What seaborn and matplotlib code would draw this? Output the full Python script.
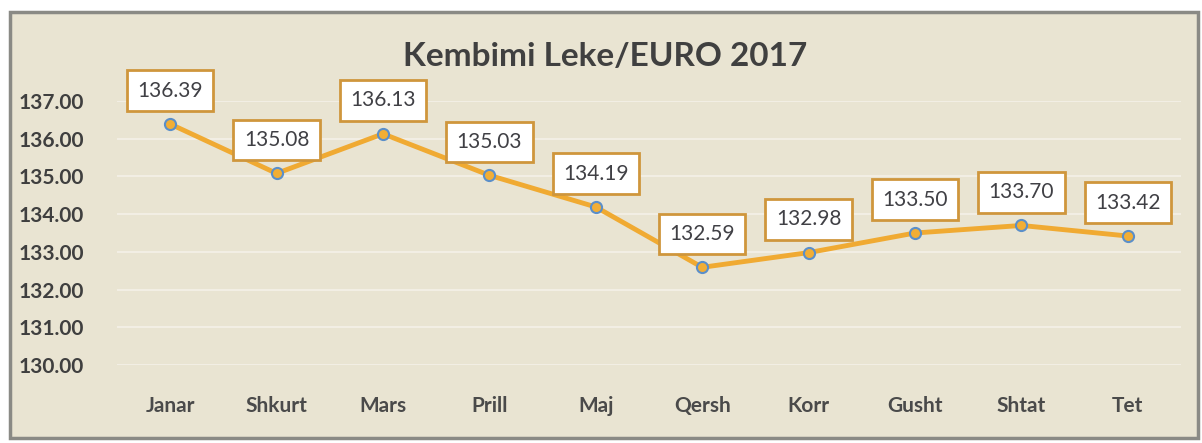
import pandas as pd
import matplotlib.pyplot as plt
import matplotlib.patches as mpatches
import seaborn as sns

# Monthly Lek/Euro rates for 2017
months = ["Janar", "Shkurt", "Mars", "Prill", "Maj", "Qersh", "Korr", "Gusht", "Shtat", "Tet"]
rates = [136.39, 135.08, 136.13, 135.03, 134.19, 132.59, 132.98, 133.50, 133.70, 133.42]
y_ticks = [130, 131, 132, 133, 134, 135, 136, 137]

df = pd.DataFrame({"muaji": months, "kursi": rates})

sns.set_theme(style="white")
plt.rcParams["font.family"] = ["Lato", "DejaVu Sans"]

W, H = 1202, 443
fig = plt.figure(figsize=(W / 100, H / 100), dpi=100)
fig.patch.set_facecolor("white")

# beige panel with grey frame (behind the axes)
panel = mpatches.Rectangle((10 / W, 5 / H), 1188 / W, 426 / H, transform=fig.transFigure,
                           facecolor="#E9E4D2", edgecolor="#8A8A85", linewidth=2.5, zorder=-1)
fig.patches.append(panel)

ax = fig.add_axes([117 / W, 1 - 365 / H, 1064 / W, 264 / H])
ax.set_facecolor("none")

sns.lineplot(data=df, x="muaji", y="kursi", sort=False, ax=ax, color="#F0AA32",
             linewidth=3.5, marker="o", markersize=8, markerfacecolor="#F2AE35",
             markeredgecolor="#5B8FC9", markeredgewidth=1.5, clip_on=False, zorder=3)

for i, v in enumerate(rates):
    ax.annotate(f"{v:.2f}", (i, v), xytext=(0, 24), textcoords="offset points",
                ha="center", va="center", fontsize=15, color="#404045",
                bbox=dict(boxstyle="square,pad=0.5", facecolor="white",
                          edgecolor="#CF963C", linewidth=2), zorder=5)

ax.set_ylim(130, 137)
ax.set_xlim(-0.5, len(months) - 0.5)
ax.set_yticks(y_ticks)
ax.set_yticklabels([f"{t:.2f}" for t in y_ticks])
ax.yaxis.grid(True, color="#F4F1E8", linewidth=1.2)
ax.set_axisbelow(True)
for s in ax.spines.values():
    s.set_visible(False)
ax.tick_params(axis="y", length=0, pad=24, labelsize=15, labelcolor="#3F3F3F")
ax.tick_params(axis="x", length=0, pad=22, labelsize=15, labelcolor="#4A4A4A")
for lbl in ax.get_xticklabels() + ax.get_yticklabels():
    lbl.set_fontweight("bold")
ax.set_xlabel("")
ax.set_ylabel("")

fig.text(605 / W, 1 - 56 / H, "Kembimi Leke/EURO 2017", ha="center", va="center",
         fontsize=24, fontweight="bold", color="#404040")

fig.savefig("out.png", dpi=100)
